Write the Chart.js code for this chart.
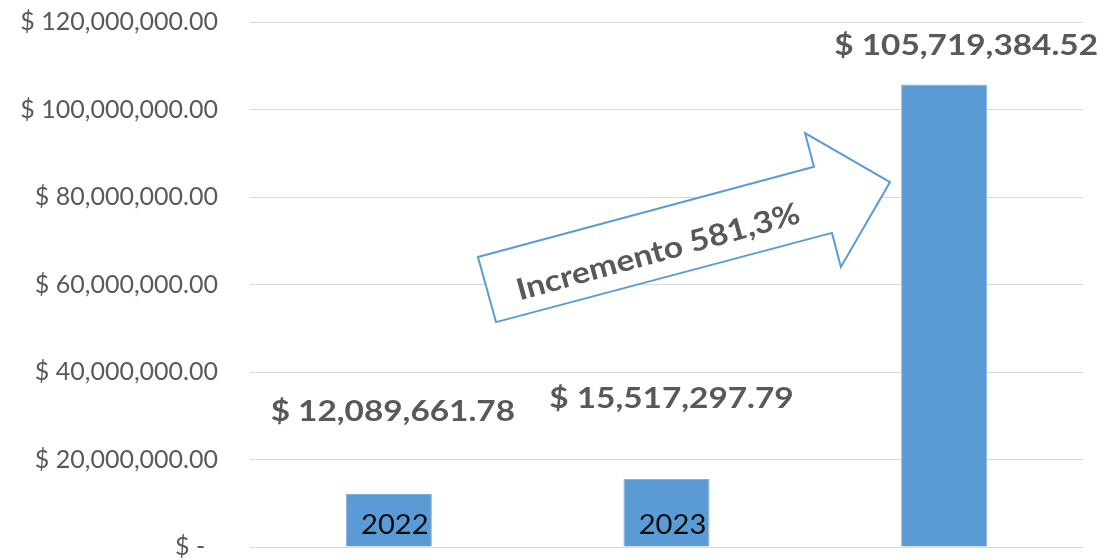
<!DOCTYPE html>
<html>
<head>
<meta charset="utf-8">
<script src="https://cdn.jsdelivr.net/npm/chart.js@4"></script>
<style>
  html, body { margin: 0; padding: 0; background: #fff; }
  #wrap { width: 1107px; height: 560px; position: relative; }
</style>
</head>
<body>
<div id="wrap"><canvas id="chart"></canvas></div>
<script>
// Data
const years = ['2022', '2023', ''];
const amounts = [12089661.78, 15517297.79, 105719384.52];
const yTicks = [0, 20000000, 40000000, 60000000, 80000000, 100000000, 120000000];
const arrowText = 'Incremento 581,3%';

const FONT = 'Lato, "Open Sans", sans-serif';
const GREY = '#595959';
const BLUE = '#5b9bd5';

function formatMoney(v) {
    if (v === 0) return '$ -  ';
    return '$ ' + v.toLocaleString('en-US', { minimumFractionDigits: 2, maximumFractionDigits: 2 });
}

// the source font is a bit wider than Lato, so stretch the custom text a little
function wideText(ctx, text, x, y, stretch) {
    ctx.save();
    ctx.translate(x, y);
    ctx.scale(stretch, 1);
    ctx.fillText(text, 0, 0);
    ctx.restore();
}

// value labels above the bars + year text inside the bars
const barText = {
    id: 'barText',
    afterDatasetsDraw(chart, args, opts) {
        const ctx = chart.ctx;
        const meta = chart.getDatasetMeta(0);
        ctx.save();
        ctx.textAlign = 'center';
        ctx.textBaseline = 'middle';
        meta.data.forEach((bar, i) => {
            const shift = opts.shift[i];
            ctx.font = 'bold 29px ' + FONT;
            ctx.fillStyle = GREY;
            wideText(ctx, formatMoney(amounts[i]), bar.x + shift[0], bar.y - shift[1], 1.15);

            if (years[i]) {
                ctx.font = '27px ' + FONT;
                ctx.fillStyle = '#0d0d0d';
                wideText(ctx, years[i], bar.x + 6, chart.chartArea.bottom - 22, 1.08);
            }
        });
        ctx.restore();
    }
};

// the hollow arrow, placed in category/value coordinates
const arrow = {
    id: 'arrow',
    afterDatasetsDraw(chart) {
        const x = chart.scales.x, y = chart.scales.y;
        const pts = [
            [0.321, 66.3], [0.386, 51.4], [1.596, 71.8], [1.628, 64.0],
            [1.805, 83.4], [1.499, 94.6], [1.531, 86.9]
        ];
        const ctx = chart.ctx;
        ctx.save();
        ctx.beginPath();
        pts.forEach((p, i) => {
            const px = x.getPixelForValue(p[0]);
            const py = y.getPixelForValue(p[1] * 1e6);
            if (i === 0) ctx.moveTo(px, py); else ctx.lineTo(px, py);
        });
        ctx.closePath();
        ctx.fillStyle = '#fff';
        ctx.fill();
        ctx.strokeStyle = BLUE;
        ctx.lineWidth = 2;
        ctx.stroke();

        ctx.translate(x.getPixelForValue(0.97), y.getPixelForValue(67.4e6));
        ctx.rotate(-15.5 * Math.PI / 180);
        ctx.font = 'bold 30px ' + FONT;
        ctx.fillStyle = GREY;
        ctx.textAlign = 'center';
        ctx.textBaseline = 'middle';
        wideText(ctx, arrowText, 0, 0, 1.12);
        ctx.restore();
    }
};

new Chart(document.getElementById('chart'), {
    type: 'bar',
    data: {
        labels: years,
        datasets: [{
            data: amounts,
            backgroundColor: BLUE,
            borderColor: '#7fb0de',
            borderWidth: 1,
            barPercentage: 0.31,
            categoryPercentage: 1
        }]
    },
    options: {
        responsive: true,
        maintainAspectRatio: false,
        animation: false,
        layout: { padding: { top: 22, right: 24, bottom: 13, left: 0 } },
        plugins: {
            legend: { display: false },
            tooltip: { enabled: false },
            barText: { shift: [[4, 82], [5, 80], [22, 39]] }
        },
        scales: {
            x: {
                display: false,
                grid: { display: false }
            },
            y: {
                min: 0,
                max: 120000000,
                afterBuildTicks: scale => { scale.ticks = yTicks.map(v => ({ value: v })); },
                afterFit: scale => {
                    scale.width = 250;
                    // keep the tick padding horizontal only
                    scale.paddingTop = 0;
                    scale.paddingBottom = 0;
                },
                border: { display: false },
                grid: { color: '#d9d9d9', lineWidth: 1, drawTicks: false },
                ticks: {
                    padding: 32,
                    color: GREY,
                    font: { family: FONT, size: 25 },
                    callback: v => formatMoney(v)
                }
            }
        }
    },
    plugins: [arrow, barText]
});
</script>
</body>
</html>
